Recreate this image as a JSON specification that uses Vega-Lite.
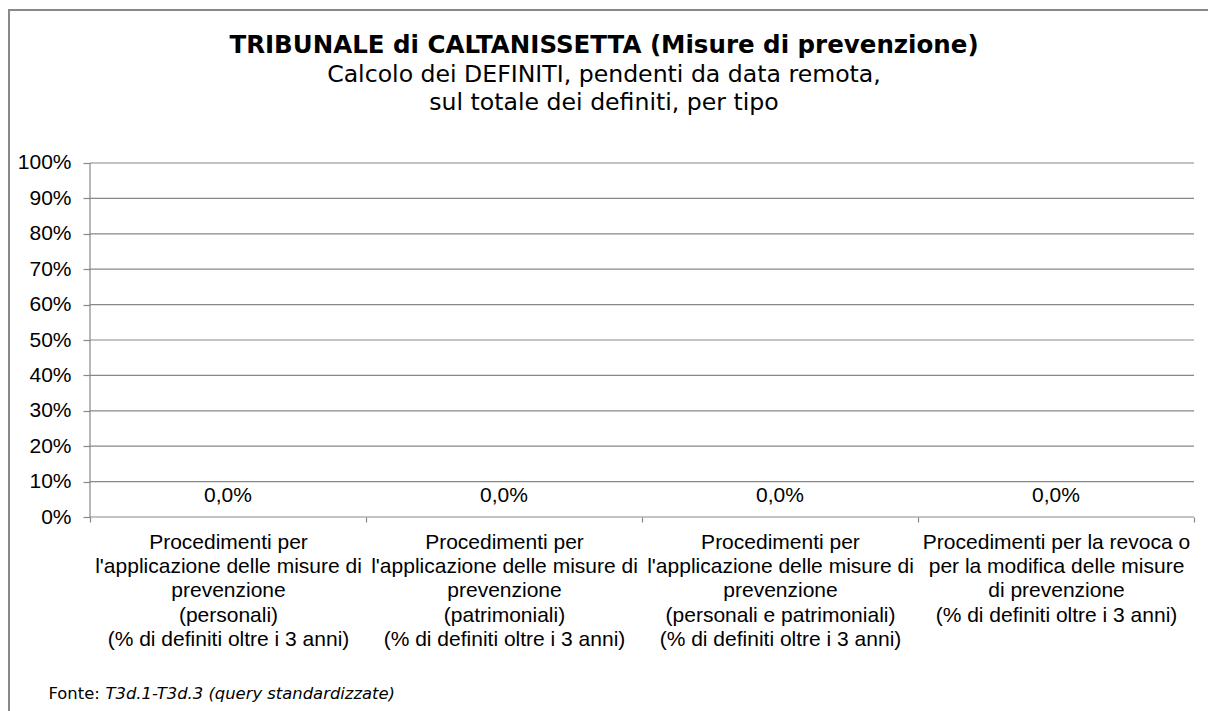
{
  "$schema": "https://vega.github.io/schema/vega-lite/v6.json",
  "width": 1266,
  "height": 720,
  "autosize": "none",
  "padding": {"left": 9, "top": 10, "right": -67, "bottom": -19},
  "background": "white",
  "title": {
    "text": "TRIBUNALE di CALTANISSETTA (Misure di prevenzione)",
    "subtitle": ["Calcolo dei DEFINITI, pendenti da data remota,", "sul totale dei definiti, per tipo"],
    "anchor": "middle",
    "frame": "group",
    "dx": -38,
    "offset": -106,
    "font": "DejaVu Sans",
    "fontSize": 24.5,
    "fontWeight": "bold",
    "color": "black",
    "subtitleFont": "DejaVu Sans",
    "subtitleFontSize": 23.6,
    "subtitleColor": "black",
    "subtitleLineHeight": 28,
    "subtitlePadding": 5
  },
  "datasets": {
    "valori": [
      {"tipo": "Procedimenti per\nl'applicazione delle misure di\nprevenzione\n(personali)\n(% di definiti oltre i 3 anni)", "quota": 0},
      {"tipo": "Procedimenti per\nl'applicazione delle misure di\nprevenzione\n(patrimoniali)\n(% di definiti oltre i 3 anni)", "quota": 0},
      {"tipo": "Procedimenti per\nl'applicazione delle misure di\nprevenzione\n(personali e patrimoniali)\n(% di definiti oltre i 3 anni)", "quota": 0},
      {"tipo": "Procedimenti per la revoca o\nper la modifica delle misure\ndi prevenzione\n(% di definiti oltre i 3 anni)", "quota": 0}
    ],
    "griglia": [
      {"livello": 0}, {"livello": 0.1}, {"livello": 0.2}, {"livello": 0.3}, {"livello": 0.4}, {"livello": 0.5},
      {"livello": 0.6}, {"livello": 0.7}, {"livello": 0.8}, {"livello": 0.9}, {"livello": 1}
    ],
    "asse": [{"da": 0, "a": 1}]
  },
  "layer": [
    {
      "data": {"name": "griglia"},
      "mark": {"type": "rule", "color": "#888888", "strokeWidth": 1.2},
      "encoding": {
        "y": {
          "field": "livello", "type": "quantitative",
          "scale": {"domain": [-0.60169, 1.4322], "nice": false, "zero": false},
          "axis": {
            "orient": "left", "offset": -81, "values": [0, 0.1, 0.2, 0.3, 0.4, 0.5, 0.6, 0.7, 0.8, 0.9, 1],
            "format": ".0%", "domain": false, "grid": false, "tickSize": 7, "tickColor": "#888888", "tickWidth": 1.2,
            "labelFont": "Liberation Sans", "labelFontSize": 21, "labelColor": "black", "labelPadding": 12,
            "title": "Fonte:", "titleAngle": 0, "titleX": -42, "titleY": 683, "titleAlign": "left",
            "titleBaseline": "middle", "titleFont": "DejaVu Sans", "titleFontSize": 16.4,
            "titleFontWeight": "normal", "titleColor": "black"
          }
        },
        "x": {"datum": 0, "type": "quantitative", "scale": {"domain": [-0.29348, 4.29348], "nice": false, "zero": false}, "axis": null},
        "x2": {"datum": 4}
      }
    },
    {
      "data": {"name": "asse"},
      "mark": {"type": "rule", "color": "#888888", "strokeWidth": 1.2},
      "encoding": {
        "y": {
          "field": "da", "type": "quantitative",
          "scale": {"domain": [-0.60169, 1.4322], "nice": false, "zero": false},
          "axis": {
            "orient": "left", "offset": -81, "values": [0, 0.1, 0.2, 0.3, 0.4, 0.5, 0.6, 0.7, 0.8, 0.9, 1],
            "format": ".0%", "domain": false, "grid": false, "tickSize": 7, "tickColor": "#888888", "tickWidth": 1.2,
            "labelFont": "Liberation Sans", "labelFontSize": 21, "labelColor": "black", "labelPadding": 12,
            "title": "Fonte:", "titleAngle": 0, "titleX": -42, "titleY": 683, "titleAlign": "left",
            "titleBaseline": "middle", "titleFont": "DejaVu Sans", "titleFontSize": 16.4,
            "titleFontWeight": "normal", "titleColor": "black"
          }
        },
        "y2": {"field": "a"},
        "x": {"datum": 0, "type": "quantitative", "scale": {"domain": [-0.29348, 4.29348], "nice": false, "zero": false}, "axis": null}
      }
    },
    {
      "data": {"name": "valori"},
      "mark": {"type": "text", "font": "Liberation Sans", "fontSize": 21, "color": "black", "baseline": "alphabetic", "dy": -15},
      "encoding": {
        "x": {
          "field": "tipo", "type": "nominal", "sort": null,
          "scale": {"paddingInner": 0, "paddingOuter": 0.29348},
          "axis": {
            "orient": "bottom", "offset": -213, "domain": false, "grid": false,
            "tickBand": "extent", "tickSize": 5, "tickColor": "#888888", "tickWidth": 1.2,
            "labelAngle": 0, "labelFont": "Liberation Sans", "labelFontSize": 21, "labelLineHeight": 24.4,
            "labelColor": "black", "labelPadding": 9, "labelLimit": 0, "labelOverlap": false,
            "labelExpr": "split(datum.label, '\\n')",
            "title": "T3d.1-T3d.3 (query standardizzate)",
            "titleX": 96, "titleY": 176, "titleAlign": "left", "titleBaseline": "middle",
            "titleFont": "DejaVu Sans", "titleFontStyle": "italic", "titleFontSize": 16.4,
            "titleFontWeight": "normal", "titleColor": "black"
          }
        },
        "y": {
          "field": "quota", "type": "quantitative",
          "scale": {"domain": [-0.60169, 1.4322], "nice": false, "zero": false},
          "axis": {
            "orient": "left", "offset": -81, "values": [0, 0.1, 0.2, 0.3, 0.4, 0.5, 0.6, 0.7, 0.8, 0.9, 1],
            "format": ".0%", "domain": false, "grid": false, "tickSize": 7, "tickColor": "#888888", "tickWidth": 1.2,
            "labelFont": "Liberation Sans", "labelFontSize": 21, "labelColor": "black", "labelPadding": 12,
            "title": "Fonte:", "titleAngle": 0, "titleX": -42, "titleY": 683, "titleAlign": "left",
            "titleBaseline": "middle", "titleFont": "DejaVu Sans", "titleFontSize": 16.4,
            "titleFontWeight": "normal", "titleColor": "black"
          }
        },
        "text": {"field": "quota", "type": "quantitative", "format": ".1%"}
      }
    }
  ],
  "resolve": {"scale": {"x": "independent"}, "axis": {"x": "independent"}},
  "config": {
    "view": {"stroke": "#888888", "strokeWidth": 2},
    "locale": {"number": {"decimal": ",", "thousands": ".", "grouping": [3], "currency": ["", " €"]}}
  }
}
